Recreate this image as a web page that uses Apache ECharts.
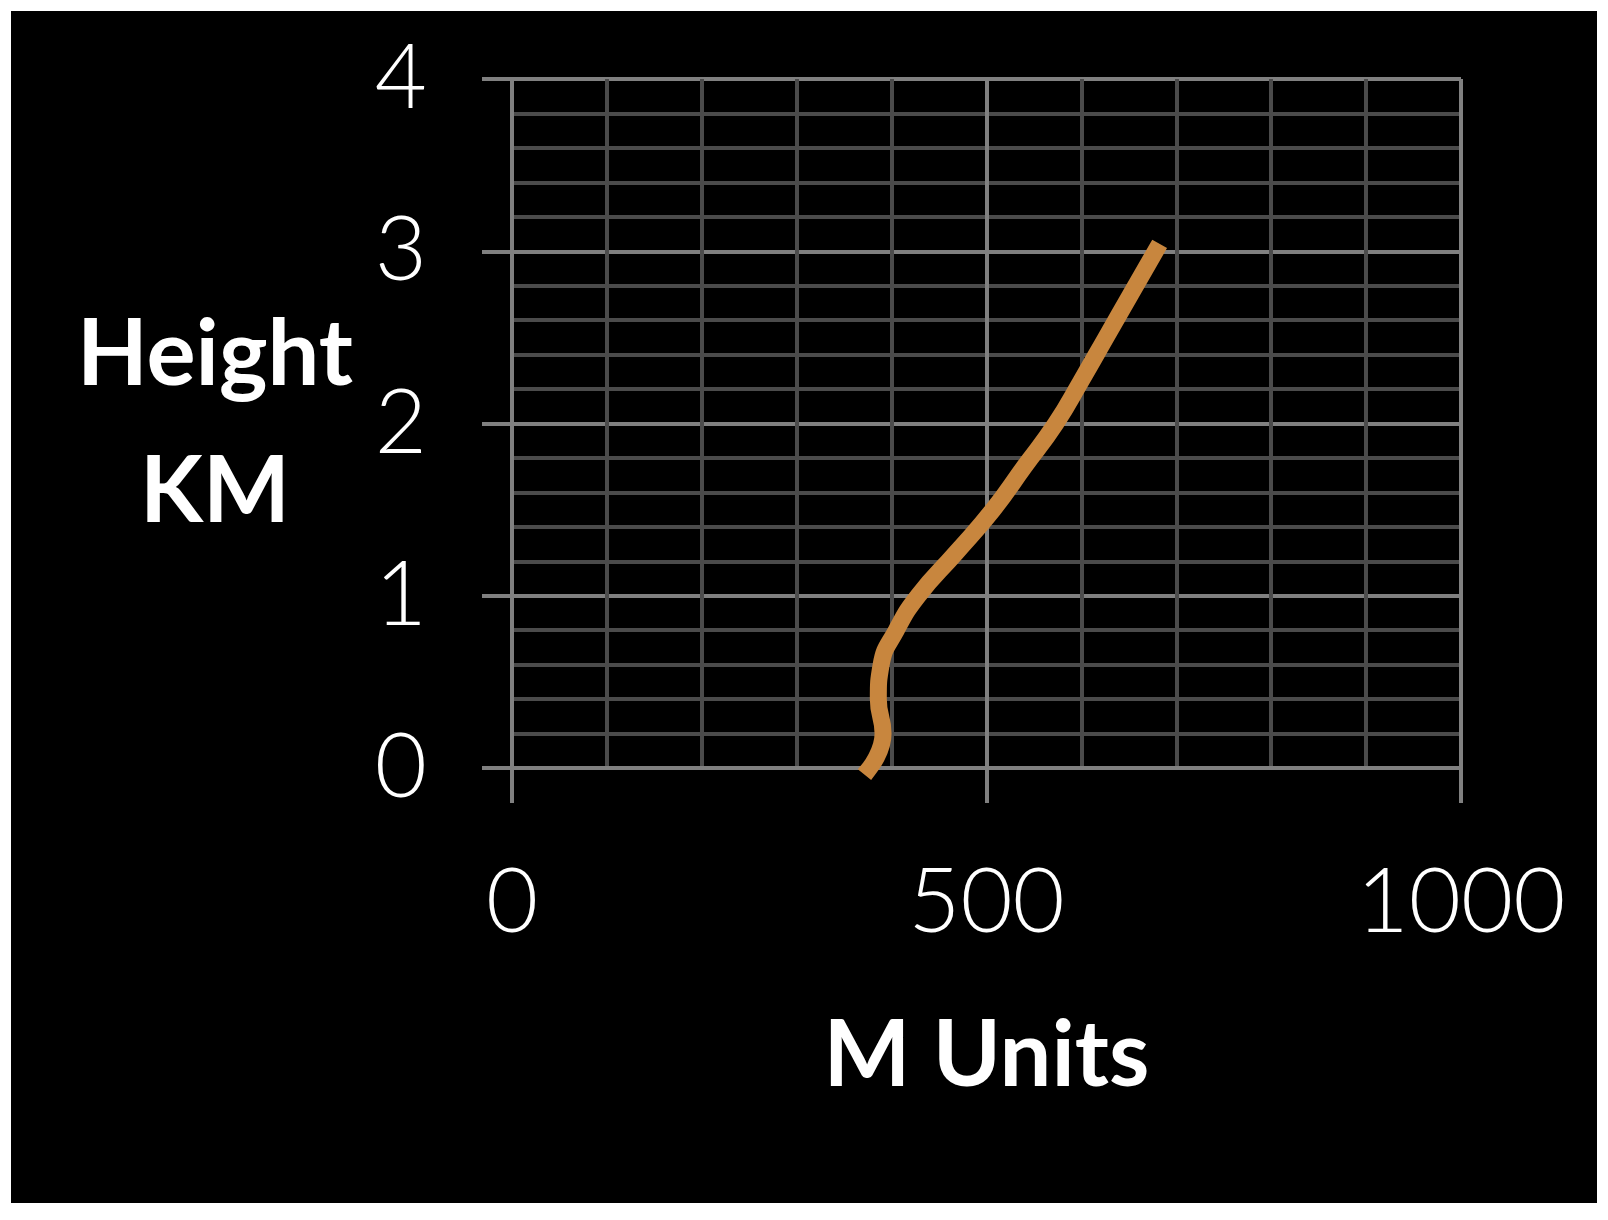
<!DOCTYPE html>
<html>
<head>
<meta charset="utf-8">
<script src="https://cdn.jsdelivr.net/npm/echarts@6/dist/echarts.min.js"></script>
<style>
  html, body { margin: 0; padding: 0; background: #fff; }
  #main { position: absolute; left: 11px; top: 11px; width: 1586px; height: 1192px; }
</style>
</head>
<body>
<div id="main"></div>
<script>
// profile: M units (x) against height in km (y)
var mUnits = [377, 391, 386, 389, 405, 428, 468, 507, 540, 573, 600, 626, 652, 678];
var heightKm = [0, 0.2, 0.4, 0.6, 0.8, 1.0, 1.25, 1.5, 1.75, 2.0, 2.25, 2.5, 2.75, 3.0];
var xTicks = [0, 500, 1000];
var yTicks = [0, 1, 2, 3, 4];

var FONT = "Lato, 'Open Sans', sans-serif";
var MAJOR = "#808080";
var MINOR = "#4b4b4b";

var chart = echarts.init(document.getElementById("main"));

var points = mUnits.map(function (m, i) {
  return [m, heightKm[i]];
});

chart.setOption({
  backgroundColor: "#000",
  animation: false,
  grid: {
    left: 501,
    right: 136,
    top: 68,
    bottom: 435
  },
  xAxis: {
    type: "value",
    min: xTicks[0],
    max: xTicks[xTicks.length - 1],
    interval: 500,
    name: "M Units",
    nameLocation: "middle",
    nameGap: 288,
    nameTextStyle: {
      color: "#fff",
      fontFamily: FONT,
      fontWeight: "bold",
      fontSize: 92,
      verticalAlign: "middle"
    },
    axisLine: { show: true, lineStyle: { color: MAJOR, width: 4 } },
    axisTick: { show: true, length: 35, lineStyle: { color: MAJOR, width: 4 } },
    axisLabel: {
      color: "#fff",
      fontFamily: FONT,
      fontWeight: 300,
      fontSize: 90,
      margin: 90,
      formatter: function (v) { return String(v); }
    },
    splitLine: { show: true, lineStyle: { color: MAJOR, width: 4 } },
    minorTick: { show: false, splitNumber: 5 },
    minorSplitLine: { show: true, lineStyle: { color: MINOR, width: 4 } }
  },
  yAxis: {
    type: "value",
    min: yTicks[0],
    max: yTicks[yTicks.length - 1],
    interval: 1,
    name: "Height\nKM",
    nameLocation: "middle",
    nameRotate: 0,
    nameGap: 297,
    nameTextStyle: {
      color: "#fff",
      fontFamily: FONT,
      fontWeight: "bold",
      fontSize: 92,
      lineHeight: 137,
      align: "center",
      verticalAlign: "middle"
    },
    axisLine: { show: true, lineStyle: { color: MAJOR, width: 4 } },
    axisTick: { show: true, length: 30, lineStyle: { color: MAJOR, width: 4 } },
    axisLabel: {
      color: "#fff",
      fontFamily: FONT,
      fontWeight: 300,
      fontSize: 90,
      margin: 85
    },
    splitLine: { show: true, lineStyle: { color: MAJOR, width: 4 } },
    minorTick: { show: false, splitNumber: 5 },
    minorSplitLine: { show: true, lineStyle: { color: MINOR, width: 4 } }
  },
  series: [
    {
      type: "line",
      data: points,
      smooth: 0.5,
      showSymbol: false,
      clip: false,
      lineStyle: {
        color: "#c8863e",
        width: 17,
        cap: "square"
      }
    }
  ]
});
</script>
</body>
</html>
